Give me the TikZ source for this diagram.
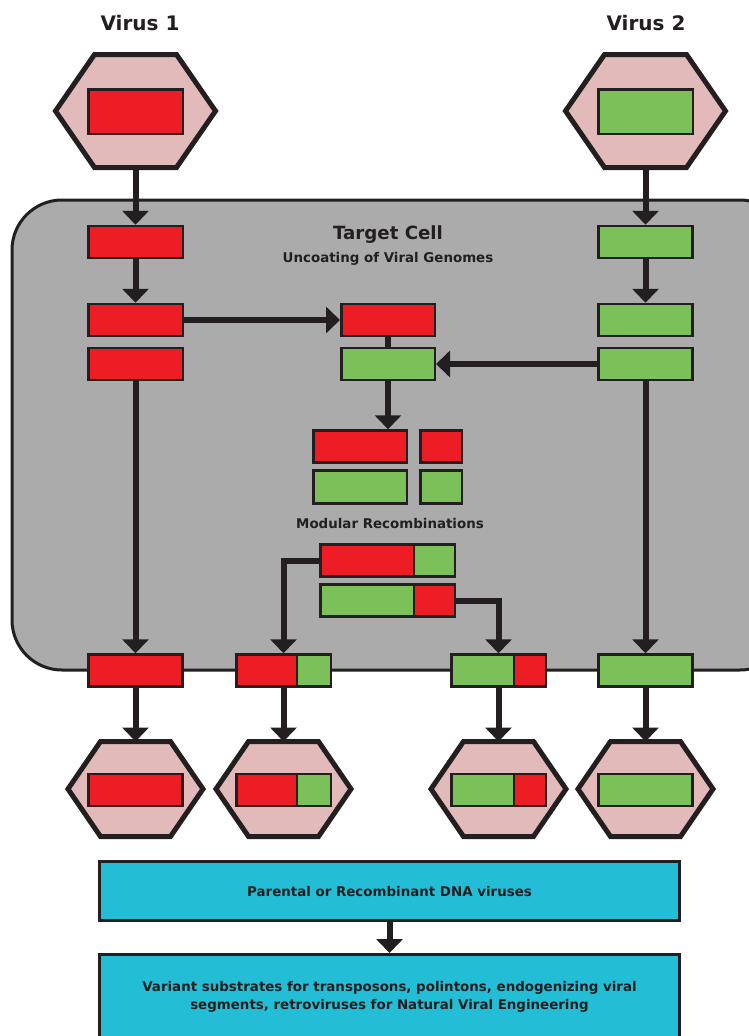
\documentclass[tikz,border=0pt]{standalone}
\usepackage{fontspec}
\setmainfont{DejaVu Sans}
\usetikzlibrary{arrows.meta}
\definecolor{CRed}{HTML}{EC1D25}
\definecolor{CGreen}{HTML}{7BC058}
\definecolor{CPink}{HTML}{E3BABA}
\definecolor{CGray}{HTML}{ABABAB}
\definecolor{CCyan}{HTML}{23BDD5}
\definecolor{CInk}{HTML}{231F20}

\begin{document}
\begin{tikzpicture}[x=1pt, y=-1pt,
  seg/.style={draw=CInk, line width=2.5pt, inner sep=0pt, minimum height=32pt},
  redseg/.style={seg, fill=CRed},
  greenseg/.style={seg, fill=CGreen},
  hexa/.style={draw=CInk, line width=5pt, fill=CPink},
  flow/.style={draw=CInk, line width=6pt, -{Triangle[width=26pt,length=14pt]}},
  link/.style={draw=CInk, line width=6pt},
  title/.style={font=\fontsize{20}{24}\selectfont\bfseries, text=CInk},
  lbl/.style={font=\fontsize{13.4}{18}\selectfont\bfseries, text=CInk},
  infobox/.style={draw=CInk, line width=3pt, fill=CCyan, inner sep=0pt,
    minimum width=580pt, align=center, lbl}]
  \useasboundingbox (0,0) rectangle (749,1036);

  % Target cell
  \draw[draw=CInk, line width=3pt, fill=CGray, rounded corners=50pt] (12,200) rectangle (790,670);
  \node[font=\fontsize{18.2}{22}\selectfont\bfseries, text=CInk] (tcell) at (388,235) {Target Cell};
  \node[lbl] (uncoat) at (388,259) {Uncoating of Viral Genomes};

  % Parental and offspring virions
  \node[title] (vlab1) at (140,23) {Virus 1};
  \node[title] (vlab2) at (646,23) {Virus 2};
  \foreach \nm/\cx/\cy/\w/\h/\t in {ha/135.5/111/80/56.5/41, hb/645.5/111/80/56.5/41,
      hc/135.5/789/67.5/47.5/35, hd/283.5/789/67.5/47.5/35,
      he/498.5/789/67.5/47.5/35, hf/645.5/789/67.5/47.5/35} {
    \draw[hexa] ({\cx-\w},\cy) -- ({\cx-\t},{\cy-\h}) -- ({\cx+\t},{\cy-\h})
      -- ({\cx+\w},\cy) -- ({\cx+\t},{\cy+\h}) -- ({\cx-\t},{\cy+\h}) -- cycle;
    \coordinate (\nm-top) at (\cx,{\cy-\h});
    \coordinate (\nm-bot) at (\cx,{\cy+\h});
  }
  \node[redseg, minimum width=94.5pt, minimum height=44.5pt] (ina) at (135.5,111.5) {};
  \node[greenseg, minimum width=94.5pt, minimum height=44.5pt] (inb) at (645.5,111.5) {};
  \node[redseg, minimum width=94pt] (inc) at (135.5,790) {};
  \node[redseg, minimum width=94.5pt] (ind) at (283.5,790) {};
  \node[greenseg, minimum width=34pt, anchor=east] (ind2) at (ind.east) {};
  \node[greenseg, minimum width=94.5pt] (ine) at (498.5,790) {};
  \node[redseg, minimum width=32pt, anchor=east] (ine2) at (ine.east) {};
  \node[greenseg, minimum width=94pt] (inf) at (645.5,790) {};

  % Uncoated genomes
  \node[redseg, minimum width=94.5pt] (r1) at (135.5,242) {};
  \node[redseg, minimum width=94.5pt] (r2) at (135.5,320) {};
  \node[redseg, minimum width=94.5pt] (r3) at (135.5,364) {};
  \node[greenseg, minimum width=94pt] (g1) at (645.5,242) {};
  \node[greenseg, minimum width=94pt] (g2) at (645.5,320) {};
  \node[greenseg, minimum width=94pt] (g3) at (645.5,364) {};
  \node[redseg, minimum width=93.5pt] (cr) at (388,320) {};
  \node[greenseg, minimum width=93.5pt] (cg) at (388,364) {};

  % Modules
  \node[redseg, minimum width=93.5pt] (mra) at (360,446.5) {};
  \node[redseg, minimum width=41.5pt] (mrb) at (441,446.5) {};
  \node[greenseg, minimum width=93.5pt, minimum height=33pt] (mga) at (360,487) {};
  \node[greenseg, minimum width=41.5pt, minimum height=33pt] (mgb) at (441,487) {};
  \node[lbl] (modrec) at (390,523) {Modular Recombinations};
  \node[redseg, minimum width=134.5pt] (bar1) at (387.5,560.5) {};
  \node[greenseg, minimum width=41pt, anchor=east] (bar1b) at (bar1.east) {};
  \node[greenseg, minimum width=134.5pt] (bar2) at (387.5,600.5) {};
  \node[redseg, minimum width=41pt, anchor=east] (bar2b) at (bar2.east) {};

  % Released genomes
  \node[redseg, minimum width=94pt] (ba) at (135.5,670.5) {};
  \node[redseg, minimum width=94.5pt] (bb) at (283.5,670.5) {};
  \node[greenseg, minimum width=34pt, anchor=east] (bb2) at (bb.east) {};
  \node[greenseg, minimum width=94.5pt] (bc) at (498.5,670.5) {};
  \node[redseg, minimum width=32pt, anchor=east] (bc2) at (bc.east) {};
  \node[greenseg, minimum width=94pt] (bd) at (645.5,670.5) {};

  % Outcome
  \node[infobox, minimum height=59pt] (boxa) at (389.5,891) {Parental or Recombinant DNA viruses};
  \node[infobox, minimum height=84pt] (boxb) at (389.5,996.5)
    {Variant substrates for transposons, polintons, endogenizing viral\\
     segments, retroviruses for Natural Viral Engineering};

  % Connectors
  \draw[flow] (ha-bot) -- (r1);
  \draw[flow] (hb-bot) -- (g1);
  \draw[flow] (r1) -- (r2);
  \draw[flow] (g1) -- (g2);
  \draw[flow] (r2) -- (cr);
  \draw[link] (cr) -- (cg);
  \draw[flow] (g3) -- (cg);
  \draw[flow] (cg.south) -- (cg.south |- mra.north);
  \draw[flow] (r3) -- (ba);
  \draw[flow] (g3) -- (bd);
  \draw[flow] (bar1.west) -| (bb.north);
  \draw[flow] (bar2.east) -| (bc.north);
  \draw[flow] (ba) -- (hc-top);
  \draw[flow] (bb) -- (hd-top);
  \draw[flow] (bc) -- (he-top);
  \draw[flow] (bd) -- (hf-top);
  \draw[flow] (boxa) -- (boxb);
\end{tikzpicture}
\end{document}
